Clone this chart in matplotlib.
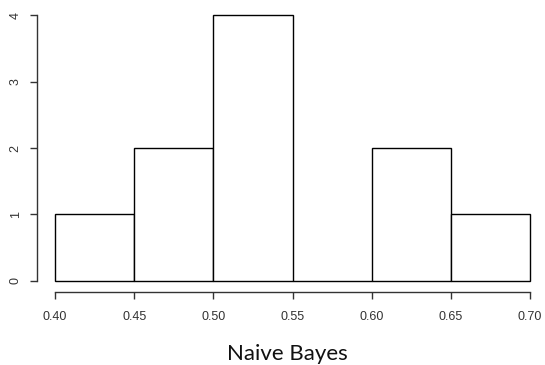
import matplotlib.pyplot as plt

# histogram bins (left edges) and counts
bin_edges = [0.40, 0.45, 0.50, 0.55, 0.60, 0.65]
counts = [1, 2, 4, 0, 2, 1]
bin_width = 0.05
x_ticks = [0.40, 0.45, 0.50, 0.55, 0.60, 0.65, 0.70]
x_labels = ['0.40', '0.45', '0.50', '0.55', '0.60', '0.65', '0.70']
y_ticks = [0, 1, 2, 3, 4]
title = 'Naive Bayes'

line_col = '#333333'

fig = plt.figure(figsize=(5.45, 3.65), dpi=100)
ax = fig.add_axes([37 / 545, 1 - 291.6 / 365, 1 - 37 / 545, (291.6 - 4.4) / 365])

ax.bar(bin_edges, counts, width=bin_width, align='edge',
       facecolor='white', edgecolor='black', linewidth=1.0)

ax.set_xlim(0.3886, 0.7095)
ax.set_ylim(-0.16, 4.16)

for side in ['top', 'right']:
    ax.spines[side].set_visible(False)
ax.spines['left'].set_bounds(0, 4)
ax.spines['bottom'].set_bounds(0.40, 0.70)
for side in ['left', 'bottom']:
    ax.spines[side].set_color(line_col)
    ax.spines[side].set_linewidth(1.0)

ax.set_xticks(x_ticks)
ax.set_xticklabels(x_labels, fontsize=9, fontfamily='Liberation Sans', color='#333333')
ax.set_yticks(y_ticks)
ax.set_yticklabels([str(v) for v in y_ticks], fontsize=9, fontfamily='Liberation Sans',
                   rotation=90, va='center', color='#333333')
ax.tick_params(axis='both', direction='out', length=5, width=1.0, color=line_col)
ax.tick_params(axis='x', pad=9)
ax.tick_params(axis='y', pad=6)

fig.text(287 / 545, 1 - 360 / 365, title, fontsize=16, family='Lato',
         ha='center', va='baseline', color='#111111')

fig.savefig('out.png', dpi=100)
